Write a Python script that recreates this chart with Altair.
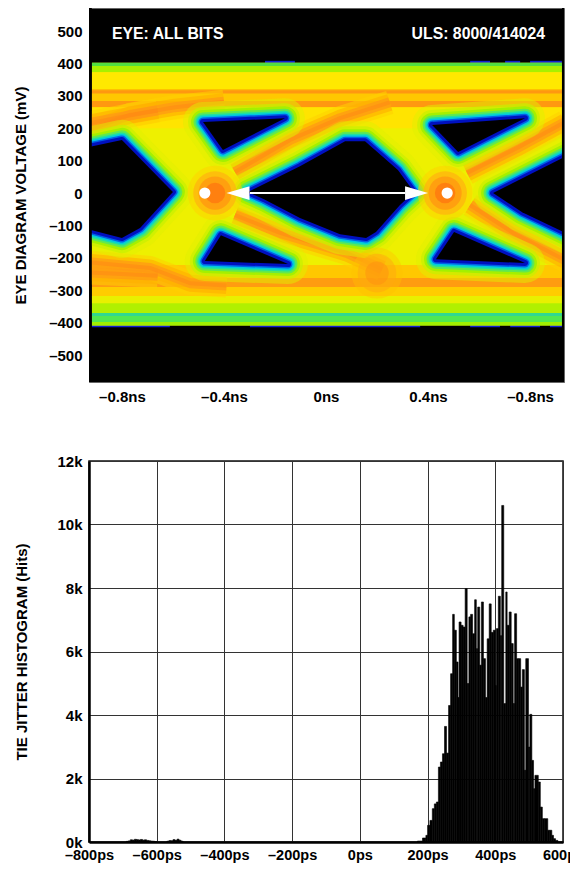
import json
import altair as alt
import pandas as pd

FONT = "Liberation Sans"

# ---------- eye diagram data (ns, mV) ----------
x_tick_vals = [-0.8, -0.4, 0, 0.4, 0.8]
x_tick_text = ["–0.8ns", "–0.4ns", "0ns", "0.4ns", "–0.8ns"]
y_tick_vals = [-500, -400, -300, -200, -100, 0, 100, 200, 300, 400, 500]

band_top = [402, 392, 373, 321, 317, 307, 284, 265, -222, -262, -290, -318, -318, -340, -370, -379, -398]
band_bot = [392, 373, 321, 287, 284, 262, 265, 200, -262, -290, -318, -340, -340, -370, -379, -398, -409]
band_col = ["#50e040", "#a8f000", "#ffe800", "#ffc000", "#ff9810", "#ffc800", "#ff9810", "#ffe400",
            "#ffc800", "#ff9c10", "#ffcc00", "#e8f000", "#e8f000", "#b0f000", "#30d890", "#50e850", "#a0f000"]

edge_a = [-0.239, 0.565, 0.702, 0.8, -0.918, -0.298, 0.565, 0.722, 0.878]
edge_b = [-0.122, 0.643, 0.761, 0.925, -0.612, 0.369, 0.682, 0.839, 0.925]
edge_t = [408, 408, 408, 408, -405, -405, -405, -405, -405]
edge_u = [400, 400, 400, 400, -414, -414, -414, -414, -414]

hole_id = ["L"] * 7 + ["C"] * 13 + ["UL"] * 4 + ["UR"] * 4 + ["LL"] * 4 + ["LR"] * 4 + ["R"] * 6
hole_ns = [-0.949, -0.80, -0.60, -0.729, -0.80, -0.949, -0.949,
           -0.306, -0.102, 0.075, 0.153, 0.282, 0.345, 0.290, 0.196, 0.157, 0.055, -0.102, -0.243, -0.306,
           -0.482, -0.161, -0.404, -0.482,
           0.416, 0.780, 0.518, 0.416,
           -0.412, -0.475, -0.149, -0.412,
           0.502, 0.780, 0.431, 0.502,
           0.655, 0.957, 0.957, 0.769, 0.655, 0.655]
hole_mv = [139, 164, 3, -108, -139, -108, 139,
           3, 83, 160, 160, 71, 3, -37, -120, -139, -127, -77, -19, 3,
           219, 231, 133, 219,
           210, 231, 127, 210,
           -130, -210, -219, -130,
           -120, -216, -204, -120,
           0, 120, -130, -59, 0, 0]

streak_id = ["A"] * 4 + ["A2"] * 3 + ["B"] * 4 + ["C"] * 3 + ["D"] * 4 + ["E"] * 3 + ["F"] * 4 + ["F2"] * 3
streak_ns = [-0.933, -0.769, -0.592, -0.40,
             -0.933, -0.80, -0.66,
             -0.357, -0.141, 0.055, 0.25,
             0.553, 0.749, 0.937,
             -0.357, -0.18, 0.082, 0.22,
             0.565, 0.733, 0.937,
             -0.933, -0.69, -0.533, -0.39,
             -0.933, -0.80, -0.66]
streak_mv = [194, 241, 265, 282,
             215, 235, 255,
             65, 164, 231, 280,
             62, 139, 219,
             -68, -123, -185, -235,
             -37, -123, -207,
             -213, -231, -278, -285,
             -245, -250, -255]

cross_ns = [-0.435, 0.467]
cross_mv = [0, 0]
blob_ns = [0.2]
blob_mv = [-247]
dot_ns = [-0.475, 0.475]
dot_mv = [0, 0]
arrow_from = [-0.298]
arrow_to = [0.31]

# ---------- histogram data ----------
hist_edges = [-690, -684, -678, -672, -666, -660, -654, -648, -642, -636, -630, -624, -618, -612, -606, -600]
hist_vals = [20, 35, 70, 60, 85, 75, 65, 80, 60, 70, 50, 40, 30, 25, 15]
hist2_edges = [-570, -564, -558, -552, -546, -540, -534, -528, -522]
hist2_vals = [25, 45, 40, 75, 55, 90, 55, 25]
main_edges = [170, 185, 195, 200, 207, 214, 220, 226, 232, 238, 244, 250, 256, 262, 268, 274, 279, 285, 290, 293,
              299, 305, 311, 317, 322, 327, 333, 339, 344, 348, 354, 359, 365, 371, 376, 382, 388, 394, 400, 403,
              409, 415, 419, 425, 431, 435, 441, 447, 453, 457, 463, 469, 475, 480, 486, 490, 498, 502, 508, 513,
              517, 527, 533, 539, 545, 555, 561, 567, 572, 578, 585]
main_vals = [30, 126, 210, 525, 680, 1050, 1200, 1260, 2360, 2520, 2780, 3640, 2800, 4300, 5300, 7170, 6670, 5670, 4550,
             6930, 6825, 6770, 7980, 4990, 7090, 7170, 6560, 7630, 6090, 7400, 5570, 7560, 5775, 4550, 6400, 7500, 6600,
             6670, 4930, 6720, 7740, 6500, 10600, 4360, 7875, 6825, 7245, 6250, 4360, 7190, 5775, 5775, 4880, 5430, 2260,
             5775, 2990, 4020, 2570, 1680, 2100, 1890, 1100, 735, 735, 370, 370, 210, 105, 50]
hist_y_ticks = [0, 2000, 4000, 6000, 8000, 10000, 12000]
hist_x_ticks = [-800, -600, -400, -200, 0, 200, 400, 600]

# ---------- frames ----------
bands = pd.DataFrame({"t": band_top, "b": band_bot, "c": band_col, "x0": -0.918, "x1": 0.925})
edges = pd.DataFrame({"a": edge_a, "b": edge_b, "t": edge_t, "u": edge_u})
holes = pd.DataFrame({"h": hole_id, "ns": hole_ns, "mv": hole_mv})
holes["i"] = range(len(holes))
streaks = pd.DataFrame({"s": streak_id, "ns": streak_ns, "mv": streak_mv})
streaks["i"] = range(len(streaks))

xs = alt.Scale(domain=[-0.929, 0.933], nice=False, zero=False)
ys = alt.Scale(domain=[-583, 571], nice=False, zero=False)
ax_x = alt.Axis(values=x_tick_vals, grid=False, ticks=False, domain=False, labelPadding=7,
                labelExpr=json.dumps(x_tick_text, ensure_ascii=False) + "[indexof(" + json.dumps(x_tick_vals) + ",datum.value)]",
                labelFont=FONT, labelFontWeight="bold", labelFontSize=15, labelColor="#000",
                labelFlush=False, labelOverlap=False, labelBound=False)
ax_y = alt.Axis(values=y_tick_vals, grid=False, ticks=False, domain=False, labelPadding=7,
                labelExpr="(datum.value<0?'–':'')+abs(datum.value)",
                labelFont=FONT, labelFontWeight="bold", labelFontSize=15, labelColor="#000",
                titleFont=FONT, titleFontWeight="bold", titleFontSize=15, titleColor="#000",
                minExtent=40, titlePadding=20, labelOverlap=False, labelBound=False, labelFlush=False)
YT = "EYE DIAGRAM VOLTAGE (mV)"


def XE(f="ns:Q"):
    return alt.X(f, scale=xs, title=None, axis=ax_x)


def YE(f="mv:Q"):
    return alt.Y(f, scale=ys, title=YT, axis=ax_y)


layers = []
layers.append(alt.Chart(edges).mark_rect(color="#1020d0", clip=True).encode(x=XE("a:Q"), x2="b:Q", y=YE("t:Q"), y2="u:Q"))
body = pd.DataFrame({"ns": [-0.918], "ns2": [0.925], "mv": [402], "mv2": [-409]})
layers.append(alt.Chart(body).mark_rect(color="#eef000", clip=True).encode(x=XE(), x2="ns2:Q", y=YE(), y2="mv2:Q"))
layers.append(alt.Chart(bands).mark_rect(clip=True).encode(
    x=XE("x0:Q"), x2="x1:Q", y=YE("t:Q"), y2="b:Q", color=alt.Color("c:N", scale=None)))


def trace(df, key, color, width, opacity=1.0, cap="round"):
    return alt.Chart(df).mark_line(color=color, strokeWidth=width, opacity=opacity, strokeCap=cap,
                                   strokeJoin="round", clip=True).encode(
        x=XE(), y=YE(), detail=f"{key}:N", order="i:Q")


for col, w, op in [("#ffd000", 24, 0.55), ("#ffb000", 17, 0.65), ("#ff9a14", 10, 0.75), ("#ff8a14", 4, 0.6)]:
    layers.append(trace(streaks, "s", col, w, op, "butt"))
for col, w, op in [("#e0f000", 40, 0.5), ("#c8f000", 30, 0.7), ("#a4f000", 24, 1), ("#60e850", 19, 1), ("#20e0a0", 15, 1),
                   ("#00c8e0", 12, 1), ("#0060e8", 9, 1), ("#0010c0", 6, 1)]:
    layers.append(trace(holes, "h", col, w, op))
layers.append(alt.Chart(holes).mark_line(color="black", fill="black", filled=True, strokeWidth=1, clip=True).encode(
    x=XE(), y=YE(), detail="h:N", order="i:Q"))

cross = pd.DataFrame({"ns": cross_ns, "mv": cross_mv})
blob = pd.DataFrame({"ns": blob_ns, "mv": blob_mv})
for df, col, sz, op in [(cross, "#ffd000", 3000, 0.5), (cross, "#ffb010", 1900, 0.7), (cross, "#ff9c10", 1100, 0.9),
                        (cross, "#ff7c10", 420, 0.9),
                        (blob, "#ffc000", 2600, 0.4), (blob, "#ffa810", 1500, 0.5), (blob, "#ff9010", 550, 0.5)]:
    layers.append(alt.Chart(df).mark_circle(color=col, size=sz, opacity=op, clip=True).encode(x=XE(), y=YE()))

strips = pd.DataFrame({"a": [-0.96, 0.925], "b": [-0.918, 0.96], "t": [571, 571], "u": [-583, -583]})
layers.append(alt.Chart(strips).mark_rect(color="black", clip=True).encode(x=XE("a:Q"), x2="b:Q", y=YE("t:Q"), y2="u:Q"))

arrow = pd.DataFrame({"ns": arrow_from, "ns2": arrow_to, "mv": [0]})
layers.append(alt.Chart(arrow).mark_rule(color="white", strokeWidth=2).encode(x=XE(), x2="ns2:Q", y=YE()))
headL = pd.DataFrame({"ns": [-0.345], "mv": [0]})
headR = pd.DataFrame({"ns": [0.355], "mv": [0]})
layers.append(alt.Chart(headL).mark_point(shape="M -1 0 L 1 -0.6 L 1 0.6 Z", size=530, filled=True, color="white", opacity=1).encode(x=XE(), y=YE()))
layers.append(alt.Chart(headR).mark_point(shape="M 1 0 L -1 -0.6 L -1 0.6 Z", size=530, filled=True, color="white", opacity=1).encode(x=XE(), y=YE()))
layers.append(alt.Chart(pd.DataFrame({"ns": dot_ns, "mv": dot_mv})).mark_circle(color="white", size=125, opacity=1).encode(x=XE(), y=YE()))

lab = pd.DataFrame({"ns": [-0.839], "mv": [491], "t": ["EYE: ALL BITS"]})
lab2 = pd.DataFrame({"ns": [0.859], "mv": [491], "t": ["ULS: 8000/414024"]})
for df, al in [(lab, "left"), (lab2, "right")]:
    layers.append(alt.Chart(df).mark_text(align=al, baseline="middle", color="white", font=FONT, fontWeight="bold",
                                          fontSize=15.8).encode(x=XE(), y=YE(), text="t:N"))

eye = alt.layer(*layers).properties(width=475, height=374,
                                    view=alt.ViewBackground(fill="black", stroke="#666", strokeWidth=1))

# ---------- histogram ----------
rows = []
for e, vals in [(hist_edges, hist_vals), (hist2_edges, hist2_vals), (main_edges, main_vals)]:
    for k, v in enumerate(vals):
        rows.append({"a": e[k], "b": e[k + 1], "v": v, "z": 0})
hist = pd.DataFrame(rows)

hx = alt.Scale(domain=[-800, 600], nice=False, zero=False)
hy = alt.Scale(domain=[0, 12000], nice=False)
bars = alt.Chart(hist).mark_rect(color="black", stroke="black", strokeWidth=0.6).encode(
    x=alt.X("a:Q", scale=hx, title=None,
            axis=alt.Axis(values=hist_x_ticks, grid=True, gridColor="#333", gridWidth=1, gridOpacity=1,
                          ticks=False, domainColor="#000", domainWidth=2.5, labelPadding=6,
                          labelExpr="(datum.value<0?'–':'')+abs(datum.value)+'ps'",
                          labelFont=FONT, labelFontWeight="bold", labelFontSize=14.5, labelColor="#000",
                          labelFlush=False, labelOverlap=False, labelBound=False)),
    x2="b:Q",
    y=alt.Y("v:Q", scale=hy, title="TIE JITTER HISTOGRAM (Hits)",
            axis=alt.Axis(values=hist_y_ticks, grid=True, gridColor="#333", gridWidth=1, gridOpacity=1,
                          ticks=False, domainColor="#000", domainWidth=2.5, labelPadding=7,
                          labelExpr="(datum.value/1000)+'k'",
                          labelFont=FONT, labelFontWeight="bold", labelFontSize=15, labelColor="#000",
                          titleFont=FONT, titleFontWeight="bold", titleFontSize=15, titleColor="#000",
                          minExtent=40, titlePadding=20, labelOverlap=False, labelBound=False, labelFlush=False)),
    y2="z:Q")
histo = bars.properties(width=474, height=381,
                        view=alt.ViewBackground(fill="white", stroke="#111", strokeWidth=1.5))

chart = alt.vconcat(eye, histo, spacing=48).properties(
    autosize=alt.AutoSizeParams(type="none"),
    padding={"left": 81, "top": 0, "right": 481, "bottom": 855},
    background="white")

chart.save("out.html", embed_options={"renderer": "svg", "actions": False})
